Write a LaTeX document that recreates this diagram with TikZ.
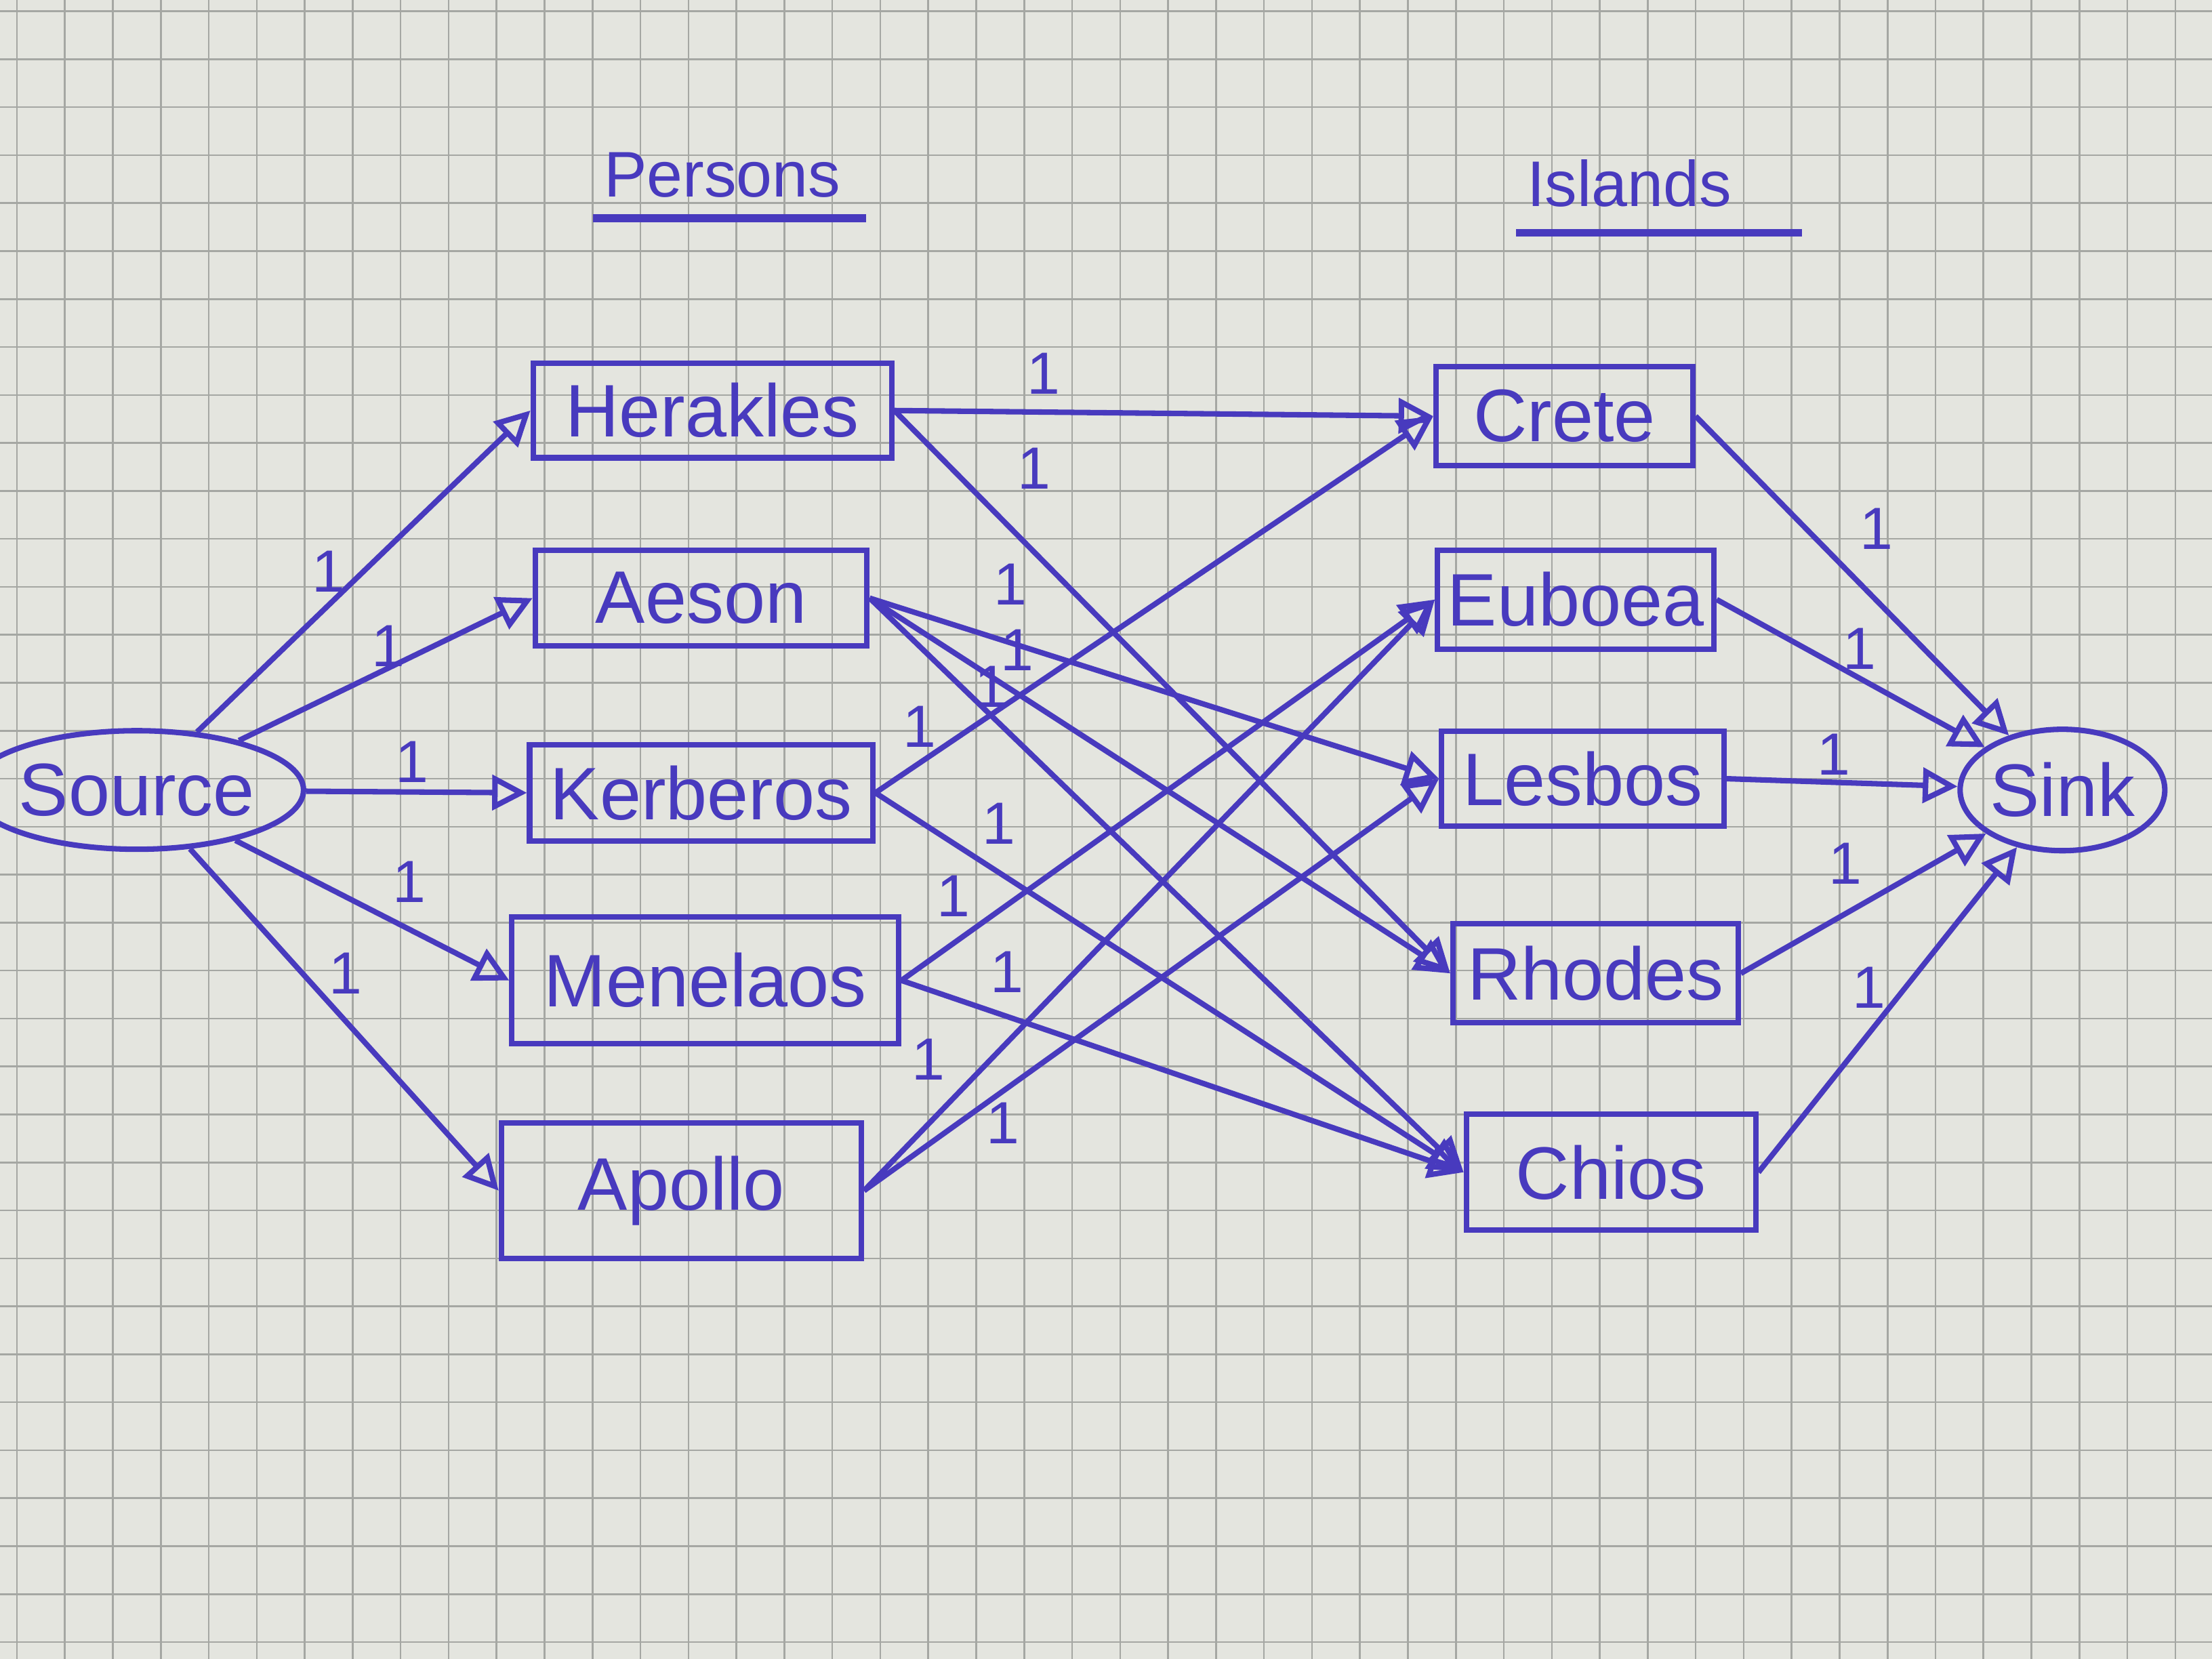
\documentclass[tikz,border=0pt]{standalone}
\usepackage{fontspec}
\setmainfont{Liberation Sans}
\usetikzlibrary{arrows.meta,shapes.geometric}
\definecolor{ink}{RGB}{72,58,190}
\definecolor{paper}{RGB}{228,229,223}
\definecolor{gridc}{RGB}{165,167,163}
\tikzset{
  box/.style={draw=ink, line width=1.1pt, text=ink, font=\fontsize{15}{18}\selectfont, inner sep=2pt},
  term/.style={ellipse, draw=ink, line width=1.1pt, text=ink, font=\fontsize{15}{18}\selectfont, inner sep=0pt},
  edge/.style={draw=ink, line width=1.1pt, -{Triangle[open,length=7pt,width=7pt]}},
  lbl/.style={text=ink, font=\fontsize{12}{14}\selectfont, inner sep=0pt},
  ttl/.style={text=ink, font=\fontsize{13}{16}\selectfont, inner sep=2pt},
  gridline/.style={draw=gridc, line width=0.35pt}
}
\begin{document}
\begin{tikzpicture}[x=0.01cm,y=-0.01cm]
\useasboundingbox (0,0) rectangle (1568,1176);
\fill[paper] (0,0) rectangle (1568,1176);
\foreach \i in {12,46,...,1568} \draw[gridline] (\i,0) -- (\i,1176);
\foreach \j in {8,42,...,1176} \draw[gridline] (0,\j) -- (1568,\j);

% titles
\node[ttl] (persons) at (512,124) {Persons};
\node[ttl] (islands) at (1155,130) {Islands};
\draw[ink, line width=1.6pt] ([yshift=-2pt]persons.south west) -- ([yshift=-2pt,xshift=3pt]persons.south east);
\draw[ink, line width=1.6pt] ([yshift=-3pt]islands.south west) -- ([yshift=-3pt,xshift=12pt]islands.south east);

% terminals
\node[term, minimum width=1.8cm, minimum height=0.84cm] (source) at (97,560) {Source};
\node[term, minimum width=1.12cm, minimum height=0.86cm] (sink) at (1462,560) {Sink};

% persons
\node[box, minimum width=2.54cm, minimum height=0.67cm] (herakles) at (505,291) {Herakles};
\node[box, minimum width=2.35cm, minimum height=0.68cm] (aeson) at (497,424) {Aeson};
\node[box, minimum width=2.43cm, minimum height=0.68cm] (kerberos) at (497,562) {Kerberos};
\node[box, minimum width=2.74cm, minimum height=0.90cm] (menelaos) at (500,695) {Menelaos};
\node[box, minimum width=2.55cm, minimum height=0.96cm] (apollo) at (483,844) {Apollo};

% islands
\node[box, minimum width=1.82cm, minimum height=0.70cm] (crete) at (1109,295) {Crete};
\node[box, minimum width=1.95cm, minimum height=0.70cm] (euboea) at (1117,425) {Euboea};
\node[box, minimum width=2.00cm, minimum height=0.67cm] (lesbos) at (1122,552) {Lesbos};
\node[box, minimum width=2.02cm, minimum height=0.70cm] (rhodes) at (1131,690) {Rhodes};
\node[box, minimum width=2.05cm, minimum height=0.82cm] (chios) at (1142,831) {Chios};

% source edges
\draw[edge] (source) -- (herakles.west);
\draw[edge] (source) -- (aeson.west);
\draw[edge] (source) -- (kerberos.west);
\draw[edge] (source) -- (menelaos.west);
\draw[edge] (source) -- (apollo.west);

% person -> island edges
\draw[edge] (herakles.east) -- (crete.west);
\draw[edge] (herakles.east) -- (rhodes.west);
\draw[edge] (aeson.east) -- (lesbos.west);
\draw[edge] (aeson.east) -- (rhodes.west);
\draw[edge] (aeson.east) -- (chios.west);
\draw[edge] (kerberos.east) -- (crete.west);
\draw[edge] (kerberos.east) -- (chios.west);
\draw[edge] (menelaos.east) -- (euboea.west);
\draw[edge] (menelaos.east) -- (chios.west);
\draw[edge] (apollo.east) -- (euboea.west);
\draw[edge] (apollo.east) -- (lesbos.west);

% island -> sink edges
\draw[edge] (crete.east) -- (sink);
\draw[edge] (euboea.east) -- (sink);
\draw[edge] (lesbos.east) -- (sink);
\draw[edge] (rhodes.east) -- (sink);
\draw[edge] (chios.east) -- (sink);

% capacity labels
\node[lbl] (c1) at (233,405) {1};
\node[lbl] (c2) at (275,458) {1};
\node[lbl] (c3) at (292,540) {1};
\node[lbl] (c4) at (290,625) {1};
\node[lbl] (c5) at (245,690) {1};
\node[lbl] (m1) at (740,265) {1};
\node[lbl] (m2) at (733,332) {1};
\node[lbl] (m3) at (716,414) {1};
\node[lbl] (m4) at (721,461) {1};
\node[lbl] (m5) at (703,487) {1};
\node[lbl] (m6) at (652,515) {1};
\node[lbl] (m7) at (708,584) {1};
\node[lbl] (m8) at (676,635) {1};
\node[lbl] (m9) at (714,689) {1};
\node[lbl] (m10) at (658,751) {1};
\node[lbl] (m11) at (711,796) {1};
\node[lbl] (s1) at (1330,375) {1};
\node[lbl] (s2) at (1318,460) {1};
\node[lbl] (s3) at (1300,535) {1};
\node[lbl] (s4) at (1308,612) {1};
\node[lbl] (s5) at (1325,700) {1};
\end{tikzpicture}
\end{document}
